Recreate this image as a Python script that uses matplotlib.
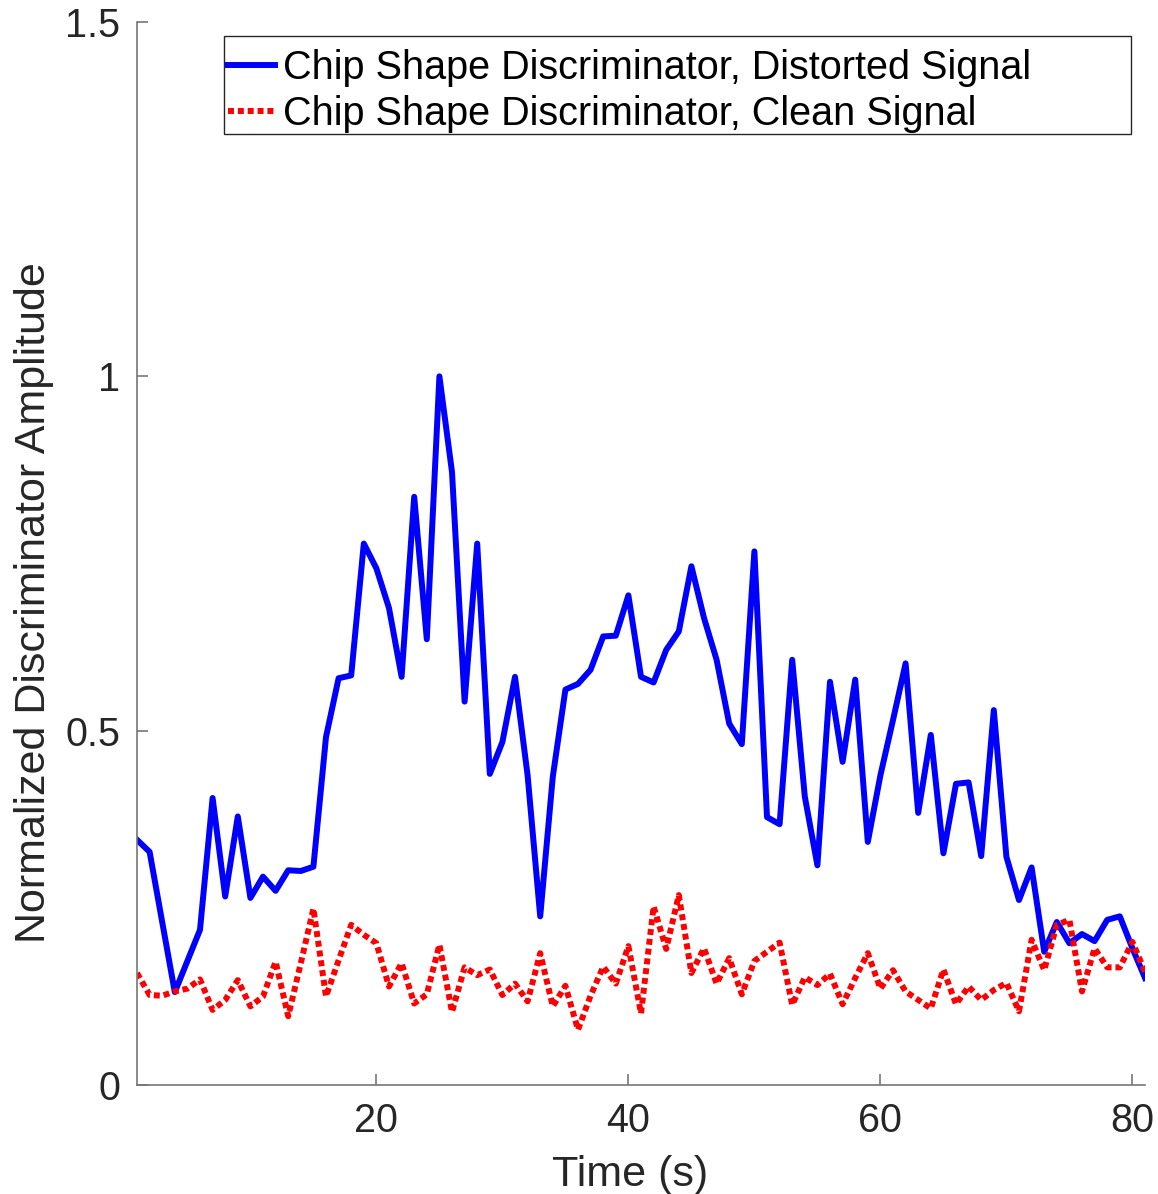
import numpy as np
import matplotlib
matplotlib.use("Agg")
import matplotlib.pyplot as plt
from matplotlib.patches import Rectangle

plt.rcParams['font.family'] = ['Liberation Sans', 'DejaVu Sans']

# time axis (s)
t = np.arange(1, 82)

# chip shape discriminator, distorted signal
distorted = [0.346, 0.329, 0.230, 0.131, 0.175, 0.219, 0.405, 0.266, 0.379, 0.264,
             0.294, 0.274, 0.303, 0.302, 0.308, 0.491, 0.574, 0.578, 0.764, 0.729,
             0.673, 0.576, 0.830, 0.629, 1.000, 0.865, 0.541, 0.764, 0.439, 0.484,
             0.576, 0.437, 0.238, 0.435, 0.558, 0.566, 0.586, 0.633, 0.634, 0.691,
             0.576, 0.568, 0.614, 0.640, 0.732, 0.659, 0.600, 0.510, 0.481, 0.753,
             0.378, 0.368, 0.600, 0.407, 0.310, 0.569, 0.456, 0.572, 0.343, 0.437,
             0.515, 0.595, 0.384, 0.494, 0.327, 0.425, 0.427, 0.323, 0.529, 0.322,
             0.261, 0.307, 0.188, 0.230, 0.200, 0.213, 0.203, 0.233, 0.238, 0.193,
             0.151]

# chip shape discriminator, clean signal
clean = [0.158, 0.127, 0.126, 0.132, 0.136, 0.149, 0.106, 0.120, 0.148, 0.111,
         0.125, 0.174, 0.097, 0.172, 0.249, 0.125, 0.176, 0.226, 0.212, 0.200,
         0.139, 0.172, 0.115, 0.128, 0.198, 0.103, 0.166, 0.155, 0.163, 0.127,
         0.143, 0.118, 0.186, 0.111, 0.140, 0.078, 0.126, 0.167, 0.143, 0.196,
         0.101, 0.252, 0.192, 0.268, 0.158, 0.193, 0.143, 0.179, 0.128, 0.175,
         0.188, 0.201, 0.113, 0.152, 0.141, 0.157, 0.114, 0.151, 0.186, 0.136,
         0.162, 0.132, 0.120, 0.108, 0.163, 0.114, 0.139, 0.120, 0.134, 0.144,
         0.104, 0.205, 0.162, 0.226, 0.233, 0.132, 0.193, 0.166, 0.166, 0.202,
         0.160]

W, H = 1158, 1194
fig = plt.figure(figsize=(W / 100, H / 100), dpi=100)
ax = fig.add_axes([137 / W, 1 - 1085 / H, 1008 / W, 1063 / H])

ax.plot(t, distorted, color='#0000ff', linewidth=4.3, solid_joinstyle='round',
        label='Chip Shape Discriminator, Distorted Signal')
ax.plot(t, clean, color='#ff0000', linewidth=4.3, linestyle=(0, (1, 0.65)),
        label='Chip Shape Discriminator, Clean Signal')

ax.set_xlim(1, 81)
ax.set_ylim(0, 1.5)
ax.set_xticks([20, 40, 60, 80])
ax.set_yticks([0, 0.5, 1, 1.5])
ax.set_yticklabels(['0', '0.5', '1', '1.5'])

for side in ['top', 'right']:
    ax.spines[side].set_visible(False)
for side in ['left', 'bottom']:
    ax.spines[side].set_color('#777777')
    ax.spines[side].set_linewidth(1.2)
ax.tick_params(direction='in', length=8, width=1.2, color='#777777',
               labelsize=28.5, labelcolor='#262626', pad=12)

ax.set_xlabel('Time (s)', fontsize=31, color='#262626', labelpad=11)
ax.xaxis.label.set_x(0.489)
ax.set_ylabel('Normalized Discriminator Amplitude', fontsize=31, color='#262626', labelpad=8)
ax.yaxis.label.set_y(0.454)

# legend: MATLAB-style wide box with extra space on the right
leg = fig.legend(*ax.get_legend_handles_labels(), loc='upper left',
                 bbox_to_anchor=(216 / W, 1 - 37 / H), fontsize=28.5,
                 handlelength=1.2, handletextpad=0.2, borderpad=0.3,
                 labelspacing=0.2, frameon=False, borderaxespad=0)
for txt in leg.get_texts():
    txt.set_color('#000000')
fig.patches.append(Rectangle((224 / W, 1 - 134 / H), 907 / W, 98 / H,
                             transform=fig.transFigure, fill=False,
                             edgecolor='#262626', linewidth=1.0))

fig.savefig('out.png', dpi=100)
